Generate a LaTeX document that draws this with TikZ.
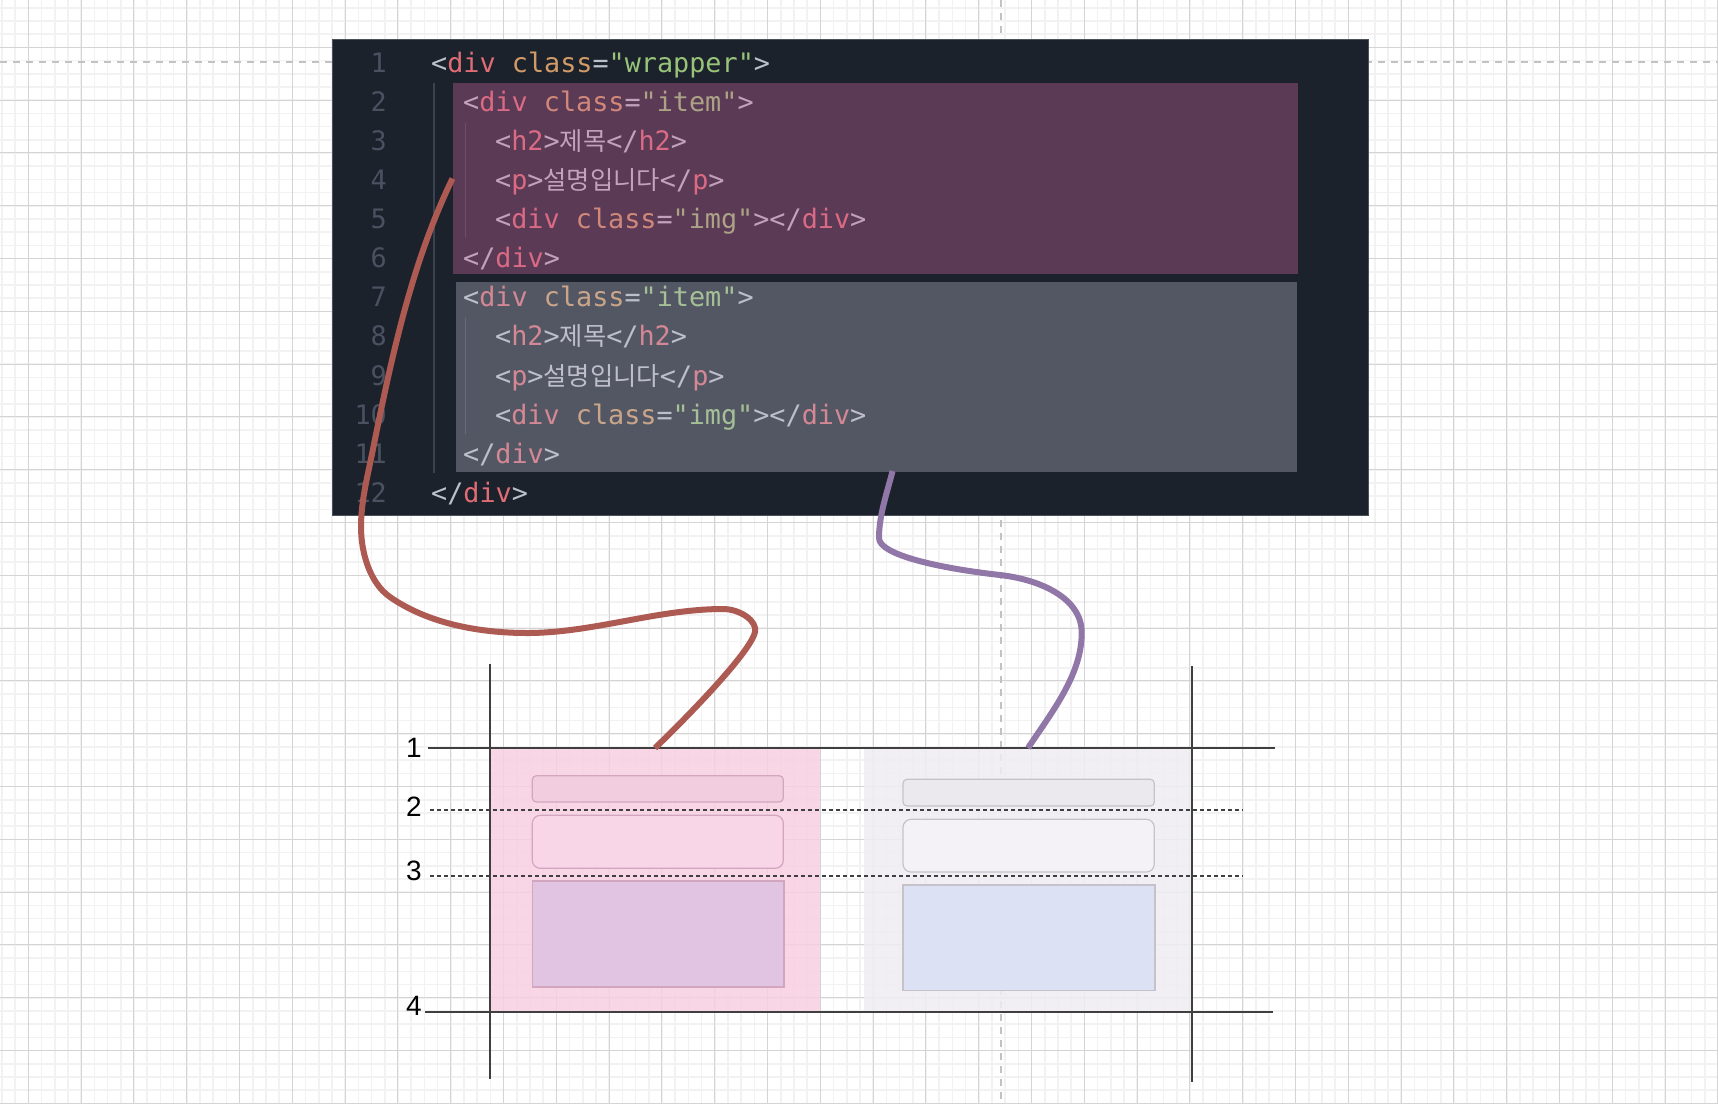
\documentclass[tikz,border=0pt]{standalone}
\usepackage{fontspec}
\setmainfont{Liberation Sans}
\setmonofont{DejaVu Sans Mono}
\newfontfamily\krfont{Noto Sans CJK KR}
\usetikzlibrary{calc}
\definecolor{cbg}{HTML}{1B222C}
\definecolor{cborder}{HTML}{4A515B}
\definecolor{cpunct}{HTML}{BCC1C9}
\definecolor{ctag}{HTML}{E06C75}
\definecolor{cattr}{HTML}{D19A66}
\definecolor{cstr}{HTML}{98C379}
\definecolor{ctext}{HTML}{BEC2C9}
\definecolor{clnum}{HTML}{4A5262}
\definecolor{cguide}{HTML}{3B4250}
\definecolor{hlA}{RGB}{210,103,161}
\definecolor{hlB}{RGB}{190,188,207}
\definecolor{gmin}{HTML}{F2F2F2}
\definecolor{gmaj}{HTML}{D4D4D4}
\definecolor{cdash}{HTML}{C2C2C2}
\definecolor{cred}{HTML}{AD5A52}
\definecolor{cpur}{HTML}{9077A8}
\definecolor{cline}{HTML}{3F3F3F}
\definecolor{pinkA}{HTML}{F7CFE2}
\definecolor{lavB}{HTML}{EFEDF3}
\definecolor{h2A}{HTML}{F2CDE0}
\definecolor{pA}{HTML}{F8D5E7}
\definecolor{imgA}{HTML}{E1C4E1}
\definecolor{bdA}{HTML}{D3A6BF}
\definecolor{h2B}{HTML}{EBE9EE}
\definecolor{pB}{HTML}{F4F2F7}
\definecolor{imgB}{HTML}{DCE1F3}
\definecolor{bdB}{HTML}{C6C2CA}
\newcommand\Pu[1]{\textcolor{cpunct}{#1}}
\newcommand\Tg[1]{\textcolor{ctag}{#1}}
\newcommand\At[1]{\textcolor{cattr}{#1}}
\newcommand\St[1]{\textcolor{cstr}{#1}}
\newcommand\Kr[1]{{\krfont\fontsize{25.3pt}{25.3pt}\selectfont\textcolor{ctext}{#1}}}
\tikzset{
  gridminor/.style={draw=gmin, line width=1.6pt},
  gridmajor/.style={draw=gmaj, line width=1pt},
  centerdash/.style={draw=cdash, line width=2pt, dash pattern=on 7pt off 6pt},
  codebox/.style={fill=cbg, draw=cborder, line width=1pt, inner sep=0pt, outer sep=0pt},
  codetext/.style={font=\ttfamily\fontsize{26.8pt}{30pt}\selectfont, inner sep=0pt, anchor=base west, text=cpunct},
  lnum/.style={font=\ttfamily\fontsize{26.8pt}{30pt}\selectfont, inner sep=0pt, anchor=base east, text=clnum},
  guide/.style={draw=cguide, line width=1.5pt},
  hlbox/.style={fill opacity=0.35, draw=none, inner sep=0pt, outer sep=0pt, anchor=north west},
  area/.style={fill opacity=0.85, draw=none, inner sep=0pt, outer sep=0pt, anchor=north west},
  inbox/.style={line width=1.2pt, inner sep=0pt, outer sep=0pt, anchor=north west},
  solidln/.style={draw=cline, line width=1.6pt},
  dashln/.style={draw=cline, line width=1.5pt, dash pattern=on 4pt off 3pt},
  lab/.style={font=\fontsize{28pt}{30pt}\selectfont, inner sep=0pt, anchor=base east, text=black},
  wire/.style={line width=6pt}
}
\begin{document}
\begin{tikzpicture}[x=1pt,y=-1pt]
\useasboundingbox (0,0) rectangle (1718,1104);
\fill[white] (0,0) rectangle (1718,1104);
% grid
\foreach \i in {0,...,130} \draw[gridminor] ({1.9+13.2*\i},0) -- ({1.9+13.2*\i},1104);
\foreach \i in {0,...,83} \draw[gridminor] (0,{7.7+13.2*\i}) -- (1718,{7.7+13.2*\i});
\foreach \i in {0,...,32} \draw[gridmajor] ({28.3+52.8*\i},0) -- ({28.3+52.8*\i},1104);
\foreach \i in {0,...,20} \draw[gridmajor] (0,{47.3+52.8*\i}) -- (1718,{47.3+52.8*\i});
% centre guides
\draw[centerdash] (0,61.7) -- (1718,61.7);
\draw[centerdash] (1001,0) -- (1001,1104);
% code panel
\node[codebox, minimum width=1036.5pt, minimum height=475.6pt, anchor=north west] (code) at (332.3,39.4) {};
% indent guides
\draw[guide] (434,83) -- (434,473);
\draw[guide] (465.3,122.7) -- (465.3,238);
\draw[guide] (465.3,317.7) -- (465.3,434);
% line numbers
\foreach \n in {1,...,12} \node[lnum] (ln\n) at (387,{72+39.14*(\n-1)}) {\n};
% code lines
\node[codetext] (c1) at (431,72) {\Pu{<}\Tg{div} \At{class}\Pu{=}\St{"wrapper"}\Pu{>}};
\node[codetext] (c2) at (463,111.14) {\Pu{<}\Tg{div} \At{class}\Pu{=}\St{"item"}\Pu{>}};
\node[codetext] (c3) at (495,150.28) {\Pu{<}\Tg{h2}\Pu{>}\Kr{제목}\Pu{</}\Tg{h2}\Pu{>}};
\node[codetext] (c4) at (495,189.42) {\Pu{<}\Tg{p}\Pu{>}\Kr{설명입니다}\Pu{</}\Tg{p}\Pu{>}};
\node[codetext] (c5) at (495,228.56) {\Pu{<}\Tg{div} \At{class}\Pu{=}\St{"img"}\Pu{></}\Tg{div}\Pu{>}};
\node[codetext] (c6) at (463,267.7) {\Pu{</}\Tg{div}\Pu{>}};
\node[codetext] (c7) at (463,306.84) {\Pu{<}\Tg{div} \At{class}\Pu{=}\St{"item"}\Pu{>}};
\node[codetext] (c8) at (495,345.98) {\Pu{<}\Tg{h2}\Pu{>}\Kr{제목}\Pu{</}\Tg{h2}\Pu{>}};
\node[codetext] (c9) at (495,385.12) {\Pu{<}\Tg{p}\Pu{>}\Kr{설명입니다}\Pu{</}\Tg{p}\Pu{>}};
\node[codetext] (c10) at (495,424.26) {\Pu{<}\Tg{div} \At{class}\Pu{=}\St{"img"}\Pu{></}\Tg{div}\Pu{>}};
\node[codetext] (c11) at (463,463.4) {\Pu{</}\Tg{div}\Pu{>}};
\node[codetext] (c12) at (431,502.54) {\Pu{</}\Tg{div}\Pu{>}};
% highlight overlays
\node[hlbox, fill=hlA, minimum width=845pt, minimum height=191pt] (item1code) at (452.5,83) {};
\node[hlbox, fill=hlB, minimum width=841.5pt, minimum height=190.5pt] (item2code) at (455.8,281.5) {};
% items
\node[area, fill=pinkA, minimum width=330pt, minimum height=263.7pt] (item1) at (490,748) {};
\node[area, fill=lavB, minimum width=328pt, minimum height=263.7pt] (item2) at (864,748) {};
% layout lines
\draw[solidln] (490,663.5) -- (490,1079);
\draw[solidln] (1192,666) -- (1192,1082);
\draw[solidln] (428,748) -- (1275,748);
\draw[solidln] (425,1011.7) -- (1273,1011.7);
% inner boxes
\node[inbox, fill=h2A, draw=bdA, rounded corners=4pt, minimum width=251pt, minimum height=26.3pt] (h2a) at (532.3,775.7) {};
\node[inbox, fill=pA, draw=bdA, rounded corners=8pt, minimum width=251pt, minimum height=53pt] (pa) at (532.3,815.3) {};
\node[inbox, fill=imgA, draw=bdA, minimum width=251.7pt, minimum height=106pt] (imga) at (532.3,881) {};
\node[inbox, fill=h2B, draw=bdB, rounded corners=4pt, minimum width=251.3pt, minimum height=26.7pt] (h2b) at (903,779.3) {};
\node[inbox, fill=pB, draw=bdB, rounded corners=8pt, minimum width=251.3pt, minimum height=52.7pt] (pb) at (903,819.3) {};
\node[inbox, fill=imgB, draw=bdB, minimum width=252pt, minimum height=105.7pt] (imgb) at (903,885) {};
% dashed row lines
\draw[dashln] (430,810) -- (1243,810);
\draw[dashln] (430,876) -- (1243,876);
% labels
\node[lab] (g1) at (422,757) {1};
\node[lab] (g2) at (422,816.5) {2};
\node[lab] (g3) at (422,880.5) {3};
\node[lab] (g4) at (422,1015.5) {4};
% wires
\draw[wire, draw=cred] (item1code.west) .. controls (411,264) and (391,360) .. (372,454)
  .. controls (367,478.5) and (361,502) .. (361,527)
  .. controls (361,552) and (369.5,582.75) .. (390,597)
  .. controls (428.5,623.8) and (480,633) .. (527,633)
  .. controls (593,633) and (657,609) .. (723,609)
  .. controls (740,609) and (757.5,621) .. (755,632)
  .. controls (750,654) and (678,726) .. (item1.north);
\draw[wire, draw=cpur] ($(item2code.south)+(16,-1)$) .. controls (887,493) and (879,515) .. (879,538)
  .. controls (879,555) and (940,568.3) .. (1000,575)
  .. controls (1040,579.5) and (1082,598) .. (1081.7,633)
  .. controls (1081.7,675) and (1051.8,712) .. (item2.north);
\end{tikzpicture}
\end{document}
